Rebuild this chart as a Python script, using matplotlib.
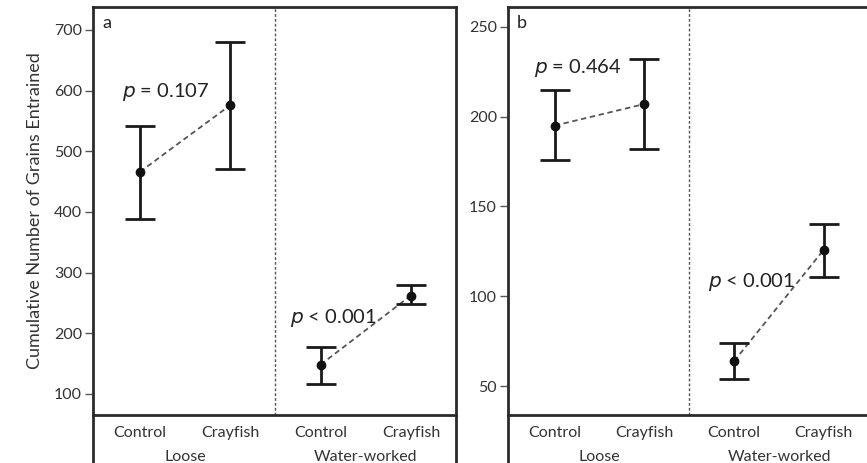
import matplotlib
matplotlib.use('Agg')
import matplotlib.pyplot as plt

plt.rcParams['font.family'] = ['Lato', 'DejaVu Sans']

# categories
treatments = ['Control', 'Crayfish', 'Control', 'Crayfish']
groups = ['Loose', 'Water-worked']

# panel a: means and error bar limits
a_mean = [466, 576, 148, 262]
a_upper = [542, 680, 177, 279]
a_lower = [388, 470, 116, 248]

# panel b
b_mean = [195, 207, 64, 126]
b_upper = [215, 232, 74, 140]
b_lower = [176, 182, 54, 111]

p_texts_a = ['= 0.107', '< 0.001']
p_texts_b = ['= 0.464', '< 0.001']

edge = '#2b2b2b'

fig = plt.figure(figsize=(8.67, 4.63), dpi=100)
ax_a = fig.add_axes([0.1073, 0.1037, 0.4187, 0.8813])
ax_b = fig.add_axes([0.586, 0.1037, 0.416, 0.8813])


def draw_panel(ax, mean, upper, lower, ylim, yticks, label, ptexts, ppos, right_spine=True):
    x = list(range(len(mean)))
    err = [[m - l for m, l in zip(mean, lower)], [u - m for u, m in zip(upper, mean)]]
    ax.errorbar(x, mean, yerr=err, fmt='none', ecolor='#1a1a1a', elinewidth=2,
                capsize=11, capthick=2, zorder=3)
    ax.plot(x, mean, 'o', color='#111111', markersize=6, zorder=4)
    # dashed lines joining pairs
    for i in (0, 2):
        ax.plot(x[i:i + 2], mean[i:i + 2], linestyle=(0, (3, 2)), color='#555555', lw=1.3, zorder=2)
    ax.axvline(1.5, color='#555555', lw=1, linestyle=(0, (2, 1.5)))
    ax.set_xlim(-0.52, 3.5)
    ax.set_ylim(*ylim)
    ax.set_yticks(yticks)
    ax.set_xticks([])
    ax.tick_params(axis='y', direction='out', length=6, width=1, color='#555555',
                   labelsize=11.5, labelcolor='#333333', pad=2)
    for s in ax.spines.values():
        s.set_linewidth(2)
        s.set_color(edge)
    ax.spines['right'].set_visible(right_spine)
    ax.text(0.025, 0.98, label, transform=ax.transAxes, ha='left', va='top', fontsize=13, color='#222222')
    for (px, py), t in zip(ppos, ptexts):
        ax.text(px, py, r'$\it{p}$ ' + t, fontsize=14.5, color='#222222', va='center', ha='left')
    # lower band: labels and extended side lines
    tr = ax.get_xaxis_transform()
    for xi, t in zip(x, treatments):
        ax.text(xi, -0.043, t, transform=tr, ha='center', va='center', fontsize=11.5, color='#333333')
    for gi, g in enumerate(groups):
        ax.text(gi * 2 + 0.5, -0.103, g, transform=tr, ha='center', va='center', fontsize=11.5, color='#333333')
    sides = [0, 1] if right_spine else [0]
    for sx in sides:
        ax.plot([sx, sx], [0, -0.15], transform=ax.transAxes, color=edge, lw=2, clip_on=False)


draw_panel(ax_a, a_mean, a_upper, a_lower, (65, 738), [100, 200, 300, 400, 500, 600, 700],
           'a', p_texts_a, [(-0.2, 598), (1.66, 225)])
draw_panel(ax_b, b_mean, b_upper, b_lower, (34, 261), [50, 100, 150, 200, 250],
           'b', p_texts_b, [(-0.23, 227), (1.71, 108)], right_spine=False)

ax_a.set_ylabel('Cumulative Number of Grains Entrained', fontsize=13, color='#333333', labelpad=8)

fig.savefig('out.png', dpi=100)
